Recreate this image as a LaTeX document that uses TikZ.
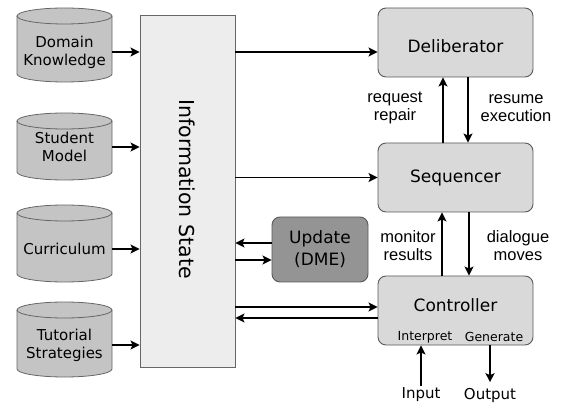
\documentclass[tikz,border=0pt]{standalone}
\usepackage{fontspec}
\setmainfont{DejaVu Sans}
\newfontfamily\labfont{Liberation Sans}
\usetikzlibrary{arrows.meta}
\tikzset{
  arr/.style={line width=1.8pt, -{Stealth[length=9pt,width=9pt,inset=2pt]}},
  rbox/.style={draw=black!65, line width=0.9pt, fill=black!15, rounded corners=8pt,
    minimum width=155pt, minimum height=69pt, inner sep=0pt},
  updbox/.style={draw=black!65, line width=0.9pt, fill=black!42, rounded corners=8pt,
    minimum width=96pt, minimum height=65pt, inner sep=0pt, align=center,
    font=\fontsize{17}{22}\selectfont},
  infobox/.style={draw=black!60, line width=0.9pt, fill=black!7,
    minimum width=95pt, minimum height=352pt, inner sep=0pt},
  cylshape/.style={draw=black!60, line width=0.8pt, fill=black!23},
  cylline/.style={draw=black!60, line width=0.8pt},
  cyltext/.style={minimum width=95pt, inner sep=0pt, align=center,
    font=\fontsize{15}{18}\selectfont},
  big/.style={font=\fontsize{17}{20}\selectfont, inner sep=0pt},
  tiny/.style={font=\fontsize{12.5}{14}\selectfont, inner sep=0pt},
  io/.style={font=\fontsize{15}{17}\selectfont, inner sep=1.5pt},
  lbl/.style={font=\labfont\fontsize{16.5}{18}\selectfont, align=center, inner sep=0pt},
}
\newcommand\drawcyl[2]{%
  \filldraw[cylshape] (17,#1-8) -- (17,#2+8)
    arc[start angle=180,end angle=360,x radius=47.5,y radius=8]
    -- (112,#1-8)
    arc[start angle=0,end angle=180,x radius=47.5,y radius=8] -- cycle;
  \draw[cylline] (17,#1-8) arc[start angle=180,end angle=360,x radius=47.5,y radius=8];
}
\begin{document}
\begin{tikzpicture}[x=1pt,y=1pt]
\useasboundingbox (0,0) rectangle (561,404);
% cylinders
\drawcyl{396}{322}
\drawcyl{291}{224}
\drawcyl{199}{122}
\drawcyl{102}{27}
\node[cyltext] (dk) at (64.5,352) {Domain\\Knowledge};
\node[cyltext] (sm) at (64.5,257) {Student\\Model};
\node[cyltext] (cur) at (64.5,155) {Curriculum};
\node[cyltext] (tut) at (64.5,59) {Tutorial\\Strategies};
% information state
\node[infobox] (info) at (187.5,213) {};
\node[rotate=-90, font=\fontsize{20.5}{24}\selectfont, inner sep=0pt] (infotext) at (187.5,215) {Information State};
% right boxes
\node[rbox] (delib) at (455.5,361.5) {};
\node[big] (delibtext) at (455.5,357.5) {Deliberator};
\node[rbox] (seq) at (455.5,226.5) {};
\node[big] (seqtext) at (455.5,226.5) {Sequencer};
\node[rbox] (ctrl) at (455.5,93.5) {};
\node[big] (ctrltext) at (455.5,99) {Controller};
\node[tiny] (interp) at (425,67) {Interpret};
\node[tiny] (gen) at (494,67) {Generate};
\node[updbox] (upd) at (320,154.5) {Update\\(DME)};
% io
\node[io] (inp) at (421,9) {Input};
\node[io] (outp) at (490,9) {Output};
% labels
\node[lbl] (rr) at (395,296) {request\\repair};
\node[lbl] (re) at (516,296) {resume\\execution};
\node[lbl] (mr) at (408,158) {monitor\\results};
\node[lbl] (dm) at (518,158) {dialogue\\moves};
% cylinder arrows
\draw[arr] (dk.east) -- (dk.east -| info.west);
\draw[arr] (sm.east) -- (sm.east -| info.west);
\draw[arr] (cur.east) -- (cur.east -| info.west);
\draw[arr] (tut.east) -- (tut.east -| info.west);
% info to right
\coordinate (pd) at ([yshift=-9.5pt]delib.west);
\draw[arr] (info.east |- pd) -- (pd);
\draw[arr] (info.east |- seq.west) -- (seq.west);
\coordinate (pu1) at ([yshift=6.5pt]upd.west);
\coordinate (pu2) at ([yshift=-10.5pt]upd.west);
\draw[arr] (pu1) -- (info.east |- pu1);
\draw[arr] (info.east |- pu2) -- (pu2);
\coordinate (pc1) at ([yshift=3.5pt]ctrl.west);
\coordinate (pc2) at ([yshift=-7.5pt]ctrl.west);
\draw[arr] (info.east |- pc1) -- (pc1);
\draw[arr] (pc2) -- (info.east |- pc2);
% vertical arrows
\draw[arr] ([xshift=-12.5pt]seq.north) -- ([xshift=-12.5pt]delib.south);
\draw[arr] ([xshift=12.5pt]delib.south) -- ([xshift=12.5pt]seq.south |- seq.north);
\draw[arr] ([xshift=-13.5pt]ctrl.north) -- ([xshift=-13.5pt]seq.south);
\draw[arr] ([xshift=13.5pt]seq.south) -- ([xshift=13.5pt]ctrl.north);
\draw[arr] (inp.north) -- (inp.north |- ctrl.south);
\draw[arr] (outp.north |- ctrl.south) -- ([yshift=4pt]outp.north);
\end{tikzpicture}
\end{document}
